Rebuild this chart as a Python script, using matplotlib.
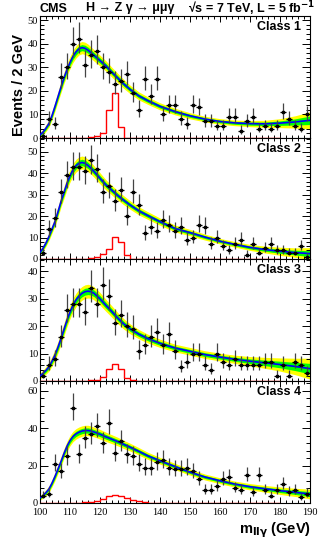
import numpy as np
import matplotlib
matplotlib.use("Agg")
import matplotlib.pyplot as plt
from matplotlib.ticker import MultipleLocator

plt.rcParams['mathtext.fontset'] = 'dejavusans'

# pusat bin data (lebar bin 2 GeV)
m_data = list(range(101, 190, 2))

# jumlah event per bin
n_class1 = [1, 8, 6, 26, 30, 40, 42, 31, 35, 37, 30, 28, 23, 24, 27, 19, 12, 25, 18, 25, 10, 14, 14, 8, 6,
            14, 13, 7, 7, 5, 5, 9, 9, 3, 7, 9, 4, 5, 4, 5, 11, 8, 5, 4, 10]
n_class2 = [3, 14, 19, 31, 39, 43, 43, 41, 46, 42, 31, 34, 27, 32, 20, 31, 25, 12, 15, 13, 18, 16, 13, 15, 9,
            10, 16, 15, 7, 10, 6, 4, 7, 9, 2, 7, 3, 5, 7, 4, 4, 3, 3, 6, 1]
n_class3 = [2, 6, 8, 16, 26, 28, 28, 25, 34, 28, 35, 31, 21, 24, 20, 19, 11, 13, 16, 18, 13, 17, 11, 5, 7,
            10, 10, 6, 4, 10, 7, 6, 8, 6, 6, 6, 6, 7, 7, 2, 6, 2, 7, 6, 3]
n_class4 = [4, 5, 21, 17, 25, 51, 26, 35, 37, 41, 32, 43, 27, 33, 26, 25, 21, 19, 19, 22, 23, 19, 18, 18, 19,
            17, 13, 7, 7, 9, 13, 14, 8, 7, 15, 6, 15, 7, 4, 7, 10, 6, 7, 3, 5]

# titik massa untuk kurva fit background
m_fit = [100, 101, 102, 103, 104, 105, 106, 107, 108, 109, 110, 111, 112, 113, 114, 115, 116, 117, 118,
         120, 122, 124, 126, 128, 130, 133, 136, 140, 145, 150, 155, 160, 165, 170, 175, 180, 185, 190]

fit_class1 = [1.3, 2.5, 4.2, 6.2, 9.5, 13.4, 17.5, 21.6, 25.5, 29.0, 32.0, 34.6, 36.5, 37.8, 38.3, 38.0, 37.2,
              36.1, 35.0, 32.8, 30.5, 27.8, 25.3, 22.8, 20.6, 17.8, 15.8, 13.4, 11.2, 9.4, 8.0, 7.0, 6.4, 6.1,
              6.0, 6.3, 6.8, 7.5]
fit_class2 = [3.0, 5.0, 7.5, 10.5, 14.0, 17.5, 22.0, 26.8, 31.0, 35.3, 38.8, 41.6, 43.5, 44.6, 45.0, 44.6, 43.6,
              42.3, 40.8, 37.6, 34.5, 32.0, 29.5, 27.3, 25.2, 22.4, 20.2, 17.4, 14.2, 12.3, 10.2, 8.3, 6.8, 5.4,
              4.4, 3.6, 3.0, 2.5]
fit_class3 = [1.8, 2.8, 3.9, 5.2, 7.2, 9.5, 12.3, 15.5, 18.8, 22.2, 25.1, 27.6, 29.5, 30.9, 31.9, 32.5, 32.7,
              32.5, 31.9, 29.9, 27.5, 25.2, 22.8, 20.7, 19.0, 17.0, 15.4, 13.7, 12.0, 10.8, 9.6, 8.7, 7.9, 7.2,
              6.6, 6.0, 5.3, 4.5]
fit_class4 = [2.7, 4.0, 5.6, 7.5, 10.6, 14.2, 18.2, 22.2, 26.5, 30.4, 33.4, 35.6, 37.0, 37.9, 38.5, 38.8, 38.8,
              38.5, 38.0, 36.8, 35.4, 34.1, 32.8, 31.3, 29.9, 27.6, 25.2, 22.6, 19.5, 16.5, 13.9, 11.9, 10.1, 8.7,
              7.6, 6.6, 5.7, 4.8]

# lebar pita 1 sigma (hijau); kuning = 2 sigma
err_class1 = [0.5, 0.6, 0.7, 0.8, 0.9, 1.0, 1.1, 1.2, 1.2, 1.25, 1.3, 1.3, 1.3, 1.3, 1.3, 1.3, 1.3, 1.25, 1.2,
              1.15, 1.1, 1.05, 1.0, 0.95, 0.9, 0.85, 0.8, 0.75, 0.7, 0.65, 0.6, 0.6, 0.6, 0.65, 0.75, 0.95, 1.3, 1.8]
err_class2 = [0.6, 0.7, 0.8, 0.9, 1.0, 1.1, 1.2, 1.3, 1.4, 1.45, 1.5, 1.5, 1.5, 1.5, 1.5, 1.5, 1.45, 1.4, 1.35,
              1.3, 1.2, 1.15, 1.1, 1.05, 1.0, 0.95, 0.9, 0.85, 0.8, 0.75, 0.7, 0.65, 0.65, 0.7, 0.8, 0.95, 1.1, 1.4]
err_class3 = [0.5, 0.6, 0.7, 0.8, 0.9, 1.0, 1.05, 1.1, 1.15, 1.2, 1.2, 1.25, 1.25, 1.25, 1.25, 1.25, 1.25, 1.2, 1.2,
              1.15, 1.1, 1.05, 1.0, 0.95, 0.9, 0.85, 0.8, 0.75, 0.7, 0.7, 0.7, 0.7, 0.75, 0.85, 1.0, 1.2, 1.5, 1.9]
err_class4 = [0.6, 0.7, 0.8, 0.9, 1.0, 1.1, 1.2, 1.3, 1.3, 1.35, 1.4, 1.4, 1.4, 1.4, 1.4, 1.4, 1.4, 1.35, 1.3,
              1.3, 1.25, 1.2, 1.15, 1.1, 1.05, 1.0, 0.95, 0.9, 0.85, 0.8, 0.8, 0.8, 0.8, 0.85, 0.9, 1.0, 1.1, 1.3]

# histogram sinyal (merah), bin 2 GeV dari 100 sampai 180
sig_edges = list(range(100, 182, 2))
sig_class1 = [0, 0, 0, 0, 0.02, 0.05, 0.1, 0.2, 0.5, 1.0, 2.3, 12.0, 19.0, 4.7, 0.2, 0, 0, 0, 0, 0,
              0, 0, 0, 0, 0, 0, 0, 0, 0, 0, 0, 0, 0, 0, 0, 0, 0, 0, 0, 0]
sig_class2 = [0, 0, 0, 0, 0, 0, 0, 0.1, 0.3, 0.8, 2.5, 4.7, 10.2, 7.8, 1.8, 0.1, 0, 0, 0, 0,
              0, 0, 0, 0, 0, 0, 0, 0, 0, 0, 0, 0, 0, 0, 0, 0, 0, 0, 0, 0]
sig_class3 = [0, 0, 0, 0, 0, 0, 0, 0, 0.2, 0.5, 1.5, 4.2, 6.3, 4.2, 1.2, 0.3, 0.1, 0, 0, 0,
              0, 0, 0, 0, 0, 0, 0, 0, 0, 0, 0, 0, 0, 0, 0, 0, 0, 0, 0, 0]
sig_class4 = [0, 0, 0, 0, 0, 0.1, 0.2, 0.3, 0.6, 1.2, 2.3, 3.5, 4.4, 3.9, 2.7, 1.6, 0.9, 0.4, 0.2, 0.1,
              0, 0, 0, 0, 0, 0, 0, 0, 0, 0, 0, 0, 0, 0, 0, 0, 0, 0, 0, 0]

class_names = ["Class 1", "Class 2", "Class 3", "Class 4"]
counts = [n_class1, n_class2, n_class3, n_class4]
fits = [fit_class1, fit_class2, fit_class3, fit_class4]
errs = [err_class1, err_class2, err_class3, err_class4]
sigs = [sig_class1, sig_class2, sig_class3, sig_class4]
y_max = [51.7, 56.4, 44.4, 65.3]
y_major = [10, 10, 10, 20]

serif = ['Liberation Serif', 'DejaVu Serif']
sans = ['Liberation Sans', 'DejaVu Sans']

W, H = 332, 544
fig = plt.figure(figsize=(W / 100, H / 100), dpi=100)

tops = [16, 138, 259, 381]
bots = [138, 259, 381, 503]
x0, x1 = 40, 310

for i in range(4):
    ax = fig.add_axes([x0 / W, 1 - bots[i] / H, (x1 - x0) / W, (bots[i] - tops[i]) / H])
    mf = np.array(m_fit)
    fv = np.array(fits[i])
    ev = np.array(errs[i])
    # pita 2 sigma dan 1 sigma
    ax.fill_between(mf, fv - 2 * ev, fv + 2 * ev, color='#ffff00', lw=0, zorder=1)
    ax.fill_between(mf, fv - ev, fv + ev, color='#00ff00', lw=0, zorder=2)
    ax.plot(mf, fv, color='#0000ff', lw=1.2, zorder=3)
    # histogram sinyal
    ax.stairs(sigs[i], sig_edges, color='#ff0000', lw=1.0, zorder=4)
    # titik data dengan error poisson
    n = np.array(counts[i], dtype=float)
    lo = np.sqrt(n + 0.25) - 0.5
    hi = np.sqrt(n + 0.25) + 0.5
    ax.errorbar(m_data, n, yerr=[lo, hi], fmt='none', ecolor='#444444', elinewidth=0.9, zorder=5)
    ax.errorbar(m_data, n, xerr=1, fmt='none', ecolor='black', elinewidth=0.9, zorder=6)
    ax.plot(m_data, n, 's', ms=1.6, color='black', zorder=7)

    ax.set_xlim(100, 190)
    ax.set_ylim(0, y_max[i])
    ax.xaxis.set_major_locator(MultipleLocator(10))
    ax.xaxis.set_minor_locator(MultipleLocator(2))
    ax.yaxis.set_major_locator(MultipleLocator(y_major[i]))
    ax.yaxis.set_minor_locator(MultipleLocator(y_major[i] / 5))
    ax.tick_params(which='both', direction='in', top=True, right=True, width=0.7)
    ax.tick_params(axis='x', which='major', length=4)
    ax.tick_params(axis='x', which='minor', length=2)
    ax.tick_params(axis='y', which='major', length=5.5)
    ax.tick_params(axis='y', which='minor', length=2.8)
    ax.tick_params(labelsize=7.5, pad=1.5)
    for sp in ax.spines.values():
        sp.set_linewidth(0.8)
    for lab in ax.get_yticklabels() + ax.get_xticklabels():
        lab.set_family(serif)
    if i < 3:
        ax.set_xticklabels([])
    else:
        ax.tick_params(axis='x', pad=3.5)
    ax.text(0.968, 0.955, class_names[i], transform=ax.transAxes, ha='right', va='top',
            fontsize=9, fontweight='bold', family=sans)

# judul dan label sumbu
fig.text(40 / W, 1 - 8.5 / H, "CMS", ha='left', va='center', fontsize=9, fontweight='bold', family=sans)
fig.text(86 / W, 1 - 8.5 / H, "H \u2192 Z \u03b3 \u2192 \u03bc\u03bc\u03b3", ha='left', va='center',
         fontsize=9, fontweight='bold', family=sans)
fig.text(188 / W, 1 - 8.5 / H, "\u221as = 7 TeV, L = 5 fb$^{\\mathbf{-1}}$", ha='left', va='center',
         fontsize=9, fontweight='bold', family=sans)
fig.text(19.5 / W, 1 - 85 / H, "Events / 2 GeV", rotation=90, ha='center', va='center',
         fontsize=10.5, fontweight='bold', family=sans)
fig.text(311 / W, 1 - 530 / H, "m$_{\\mathbf{ll\\gamma}}$ (GeV)", ha='right', va='center',
         fontsize=10.5, fontweight='bold', family=sans)

fig.savefig("out.png", dpi=100)
